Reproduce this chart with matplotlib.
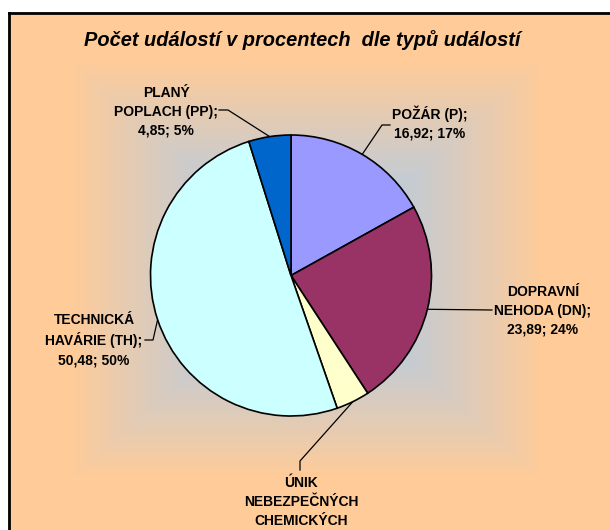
#pie chart of event types (percent)
import numpy as np
import matplotlib.pyplot as plt
from matplotlib.colors import to_rgb

plt.rcParams['font.family'] = ['Liberation Sans', 'DejaVu Sans']

title = "Počet událostí v procentech  dle typů událostí"
labels = ["POŽÁR (P);", "DOPRAVNÍ\nNEHODA (DN);", "ÚNIK\nNEBEZPEČNÝCH\nCHEMICKÝCH",
          "TECHNICKÁ\nHAVÁRIE (TH);", "PLANÝ\nPOPLACH (PP);"]
values = [16.92, 23.89, 3.86, 50.48, 4.85]
percents = ["17%", "24%", "4%", "50%", "5%"]
colors = ["#9999FF", "#993366", "#FFFFCC", "#CCFFFF", "#0066CC"]

W, H = 610, 530
fig = plt.figure(figsize=(W / 100, H / 100), dpi=100)

# background: rectangular gradient, blue in the middle, orange at edges
bg = fig.add_axes([0, 0, 1, 1])
bg.set_xlim(0, W)
bg.set_ylim(H, 0)
bg.axis('off')
yy, xx = np.mgrid[0:H, 0:W] + 0.5
t = np.maximum(np.abs(xx - 307) / 235, np.abs(yy - 270) / 208)
t = np.clip(t, 0, 1) ** 1.1
inner = np.array(to_rgb("#9ECBFA"))
outer = np.array(to_rgb("#FFCC99"))
img = inner[None, None, :] * (1 - t[..., None]) + outer[None, None, :] * t[..., None]
img[:12, :] = 1.0
img[:, :8] = 1.0
bg.imshow(img, extent=(0, W, H, 0), aspect='auto', interpolation='bilinear')
bg.plot([8.5, 8.5], [H, 12.5], color='black', lw=2)
bg.plot([8.5, W], [12.5, 12.5], color='black', lw=2)

bg.text(302, 40, title, ha='center', va='center', fontsize=14.4,
        fontweight='bold', fontstyle='italic')

# pie
cx, cy, r = 291, 275.5, 140.5
ax = fig.add_axes([(cx - r) / W, (H - cy - r) / H, 2 * r / W, 2 * r / H])
wedges, _ = ax.pie(values, colors=colors, startangle=90, counterclock=False,
                   wedgeprops=dict(edgecolor='black', linewidth=1.2))
ax.set_xlim(-1, 1)
ax.set_ylim(-1, 1)
ax.set_aspect('auto')

def edge_point(w):
    mid = np.deg2rad((w.theta1 + w.theta2) / 2)
    disp = ax.transData.transform((np.cos(mid), np.sin(mid)))
    return bg.transData.inverted().transform(disp)

# label text centre and leader path (pixel positions of the label side)
label_pos = [(430, 123), (543, 311), (301, 502), (94, 340), (166, 112)]
leader_side = [[(390, 125), (382, 125)],
               [(492, 310)],
               [(300, 470), (300, 461)],
               [(145, 340), (153, 340)],
               [(219, 110), (228, 110)]]

for w, lab, v, p, pos, side in zip(wedges, labels, values, percents, label_pos, leader_side):
    if "ÚNIK" in lab:
        txt = lab
    else:
        txt = lab + "\n" + ("%.2f" % v).replace(".", ",") + "; " + p
    bg.text(pos[0], pos[1], txt, ha='center', va='center', fontsize=10,
            fontweight='bold', linespacing=1.45, multialignment='center')
    ex, ey = edge_point(w)
    xs = [s[0] for s in side] + [ex]
    ys = [s[1] for s in side] + [ey]
    bg.plot(xs, ys, color='black', lw=0.9)

fig.savefig("out.png", dpi=100)
